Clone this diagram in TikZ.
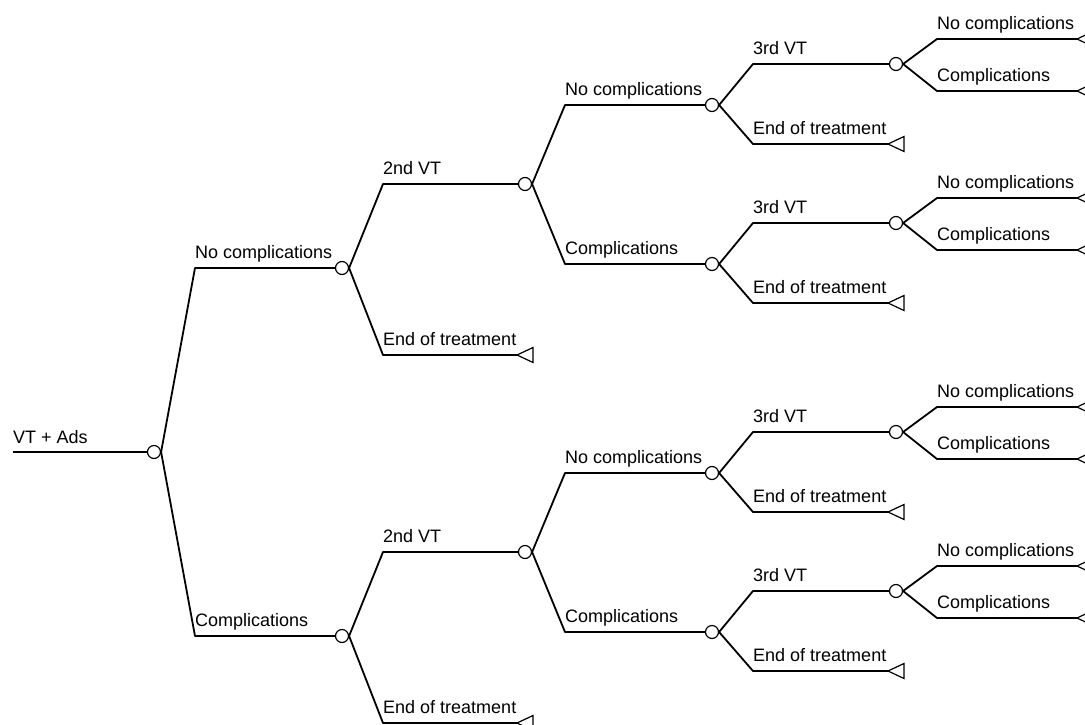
\documentclass[tikz,border=0pt]{standalone}
\usepackage{fontspec}
\setmainfont{Liberation Sans}
\begin{document}
\begin{tikzpicture}[x=1pt,y=-1pt,
  edge/.style={line width=1.8pt, line join=round},
  chance/.style={circle, draw, line width=1.2pt, fill=white, minimum size=13pt, inner sep=0pt},
  term/.style={draw, line width=1.2pt, line join=miter},
  lab/.style={anchor=base west, inner sep=0pt, font=\fontsize{18}{20}\selectfont}]
\useasboundingbox (0,0) rectangle (1085,724);
\fill[white] (0,0) rectangle (1085,724);
\clip (0,0) rectangle (1085,724);

% root
\coordinate (r0) at (13,452);
\node[chance] (c0) at (154,452) {};
\draw[edge] (r0) -- (c0.west);
\node[lab] (lr) at ([yshift=9pt]r0) {VT + Ads};

\foreach \h/\o/\txt in {1/0/No complications, 2/368/Complications} {
  % level 1
  \pgfmathsetmacro{\ya}{268+\o}
  \coordinate (s1\h) at (195,\ya);
  \node[chance] (A\h) at (342,\ya) {};
  \draw[edge] (c0.east) -- (s1\h) -- (A\h.west);
  \node[lab] (l1\h) at ([yshift=10pt]s1\h) {\txt};
  % level 2
  \pgfmathsetmacro{\yb}{184+\o}
  \pgfmathsetmacro{\ye}{355+\o}
  \coordinate (s2\h) at (383,\yb);
  \node[chance] (B\h) at (525,\yb) {};
  \draw[edge] (A\h.east) -- (s2\h) -- (B\h.west);
  \node[lab] (l2\h) at ([yshift=10pt]s2\h) {2nd VT};
  \coordinate (e2\h) at (383,\ye);
  \coordinate (t2\h) at (517,\ye);
  \draw[edge] (A\h.east) -- (e2\h) -- (t2\h);
  \draw[term] (t2\h) -- ++(16,-7.5) -- ++(0,15) -- cycle;
  \node[lab] (le2\h) at ([yshift=10pt]e2\h) {End of treatment};
  % level 3
  \foreach \k/\d/\ctxt in {1/-79/No complications, 2/80/Complications} {
    \pgfmathsetmacro{\yc}{\yb+\d}
    \coordinate (s3\h\k) at (565,\yc);
    \node[chance] (C\h\k) at (712,\yc) {};
    \draw[edge] (B\h.east) -- (s3\h\k) -- (C\h\k.west);
    \node[lab] (l3\h\k) at ([yshift=10pt]s3\h\k) {\ctxt};
    % level 4
    \pgfmathsetmacro{\yd}{\yc-41}
    \pgfmathsetmacro{\yf}{\yc+39}
    \coordinate (s4\h\k) at (753,\yd);
    \node[chance] (D\h\k) at (896,\yd) {};
    \draw[edge] (C\h\k.east) -- (s4\h\k) -- (D\h\k.west);
    \node[lab] (l4\h\k) at ([yshift=10pt]s4\h\k) {3rd VT};
    \coordinate (e4\h\k) at (753,\yf);
    \coordinate (t4\h\k) at (888,\yf);
    \draw[edge] (C\h\k.east) -- (e4\h\k) -- (t4\h\k);
    \draw[term] (t4\h\k) -- ++(16,-7.5) -- ++(0,15) -- cycle;
    \node[lab] (le4\h\k) at ([yshift=10pt]e4\h\k) {End of treatment};
    % level 5
    \foreach \m/\dd/\mtxt in {1/-25/No complications, 2/27/Complications} {
      \pgfmathsetmacro{\yg}{\yd+\dd}
      \coordinate (s5\h\k\m) at (937,\yg);
      \coordinate (t5\h\k\m) at (1077,\yg);
      \draw[edge] (D\h\k.east) -- (s5\h\k\m) -- (t5\h\k\m);
      \draw[term] (t5\h\k\m) -- ++(16,-7.5) -- ++(0,15) -- cycle;
      \node[lab] (l5\h\k\m) at ([yshift=10pt]s5\h\k\m) {\mtxt};
    }
  }
}
\end{tikzpicture}
\end{document}
